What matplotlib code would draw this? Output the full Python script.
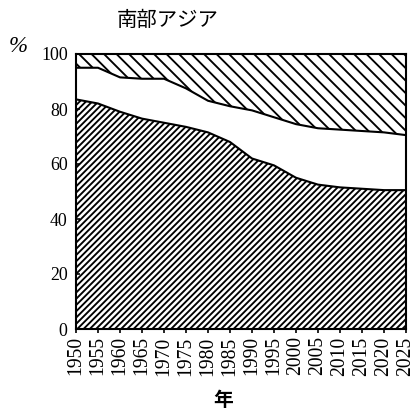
import matplotlib
matplotlib.use("Agg")
import matplotlib.pyplot as plt

years = [1950, 1955, 1960, 1965, 1970, 1975, 1980, 1985, 1990, 1995,
         2000, 2005, 2010, 2015, 2020, 2025]
lower = [83.5, 82.0, 79.0, 76.5, 75.0, 73.5, 71.5, 68.0, 62.0, 59.5,
         55.0, 52.5, 51.5, 51.0, 50.5, 50.5]
upper = [95.0, 95.0, 91.5, 91.0, 91.0, 87.5, 83.0, 81.0, 79.5, 77.0,
         74.5, 73.0, 72.5, 72.0, 71.5, 70.5]
yticks = [0, 20, 40, 60, 80, 100]
title = "南部アジア"
xlabel = "年"
ylabel = "%"

DPI = 150
plt.rcParams['hatch.linewidth'] = 0.9
plt.rcParams['font.family'] = ['Liberation Serif', 'Noto Sans CJK JP', 'DejaVu Sans']

fig = plt.figure(figsize=(416 / DPI, 415 / DPI), dpi=DPI)
ax = fig.add_axes([76 / 416, 1 - 329 / 415, 330 / 416, 275 / 415])

ax.fill_between(years, 0, lower, facecolor='white', edgecolor='black',
                hatch='/' * 8, linewidth=0)
ax.fill_between(years, upper, 100, facecolor='white', edgecolor='black',
                hatch='\\' * 4, linewidth=0)
ax.plot(years, lower, color='black', lw=1.0)
ax.plot(years, upper, color='black', lw=1.0)

ax.set_xlim(1950, 2025)
ax.set_ylim(0, 100)
ax.set_xticks(years)
ax.set_xticklabels([str(y) for y in years], rotation=90, fontsize=9.4)
ax.set_yticks(yticks)
ax.set_yticklabels([str(v) for v in yticks], fontsize=8.6)
ax.tick_params(axis='x', direction='out', length=2, width=0.8, pad=1.5)
ax.tick_params(axis='y', direction='in', length=2, width=0.8, pad=4)
for s in ax.spines.values():
    s.set_linewidth(1.0)

fig.text(168 / 416, 1 - 20 / 415, title, ha='center', va='center',
         fontsize=9.8, family=['Noto Sans CJK JP'])
fig.text(223 / 416, 1 - 401 / 415, xlabel, ha='center', va='center',
         fontsize=9.5, family=['Noto Sans CJK JP'], fontweight='bold')
fig.text(18 / 416, 1 - 46 / 415, ylabel, ha='center', va='center',
         fontsize=11, style='italic')

fig.savefig("out.png", dpi=DPI)
